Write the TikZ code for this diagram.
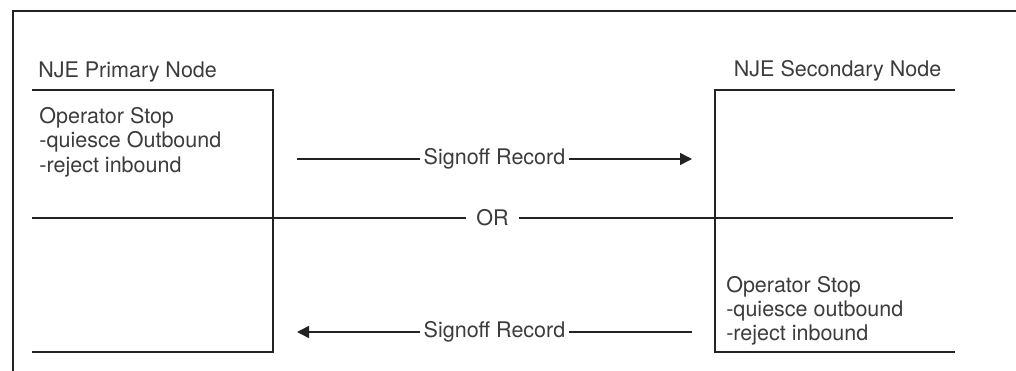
\documentclass[tikz,border=0pt]{standalone}
\usepackage{fontspec}
\setmainfont{TeX Gyre Heros}
\usepackage{xcolor}
\usepackage{tikz}
\usetikzlibrary{arrows.meta,positioning}
\definecolor{inkgray}{RGB}{35,35,35}
\definecolor{textgray}{RGB}{60,60,60}

\begin{document}
\begin{tikzpicture}[
    frameline/.style={draw=inkgray, line width=0.8pt},
    boxline/.style={draw=inkgray, line width=1pt},
    nodetitle/.style={font=\fontsize{15.3pt}{17.4pt}\selectfont, text=textgray, inner sep=0pt},
    stoptext/.style={font=\fontsize{15.3pt}{17.4pt}\selectfont, text=textgray, align=left, inner sep=0pt},
    msgarrow/.style={-{Triangle[length=0.3cm,width=0.3cm]}, line width=1pt, draw=inkgray},
    msglabel/.style={fill=white, font=\fontsize{15.3pt}{17.4pt}\selectfont, text=textgray, inner ysep=1pt, inner xsep=0.1cm},
]
\useasboundingbox (0,0) rectangle (25.4,9.275);

% ─────────────────────────────────────────
% Outer frame
% ─────────────────────────────────────────
\draw[frameline] (0.325,0) -- (0.325,9.0) -- (25.4,9.0);

% ─────────────────────────────────────────
% Primary node
% ─────────────────────────────────────────
\node[nodetitle, anchor=base west] (primtitle) at (0.95,7.325) {NJE Primary Node};
\draw[boxline] (0.8,7.025) -- (6.825,7.025) -- (6.825,0.475) -- (0.8,0.475);
% base = last line
\node[stoptext, anchor=base west] (primstop) at (0.98,4.97)
    {Operator Stop\\-quiesce Outbound\\-reject inbound};

% ─────────────────────────────────────────
% Secondary node
% ─────────────────────────────────────────
\node[nodetitle, anchor=base] (sectitle) at (20.94,7.35) {NJE Secondary Node};
\draw[boxline] (23.875,7.025) -- (17.875,7.025) -- (17.875,0.475) -- (23.875,0.475);
\node[stoptext, anchor=base west] (secstop) at (18.15,0.75)
    {Operator Stop\\-quiesce outbound\\-reject inbound};

% ─────────────────────────────────────────
% Signoff records
% ─────────────────────────────────────────
\coordinate (sig1from) at (7.425,5.3);
\coordinate (sig1to)   at (17.3,5.3);
\coordinate (sig2from) at (17.3,0.975);
\coordinate (sig2to)   at (7.425,0.975);

\draw[msgarrow] (sig1from) -- (sig1to) node[msglabel, midway] (sig1label) {Signoff Record};
\draw[msgarrow] (sig2from) -- (sig2to) node[msglabel, midway] (sig2label) {Signoff Record};

% OR separator
\coordinate (orleft)  at (0.8,3.825);
\coordinate (orright) at (23.825,3.825);
\draw[boxline] (orleft) -- (orright) node[msglabel, midway, inner xsep=0.27cm] (orlabel) {OR};

\end{tikzpicture}
\end{document}
